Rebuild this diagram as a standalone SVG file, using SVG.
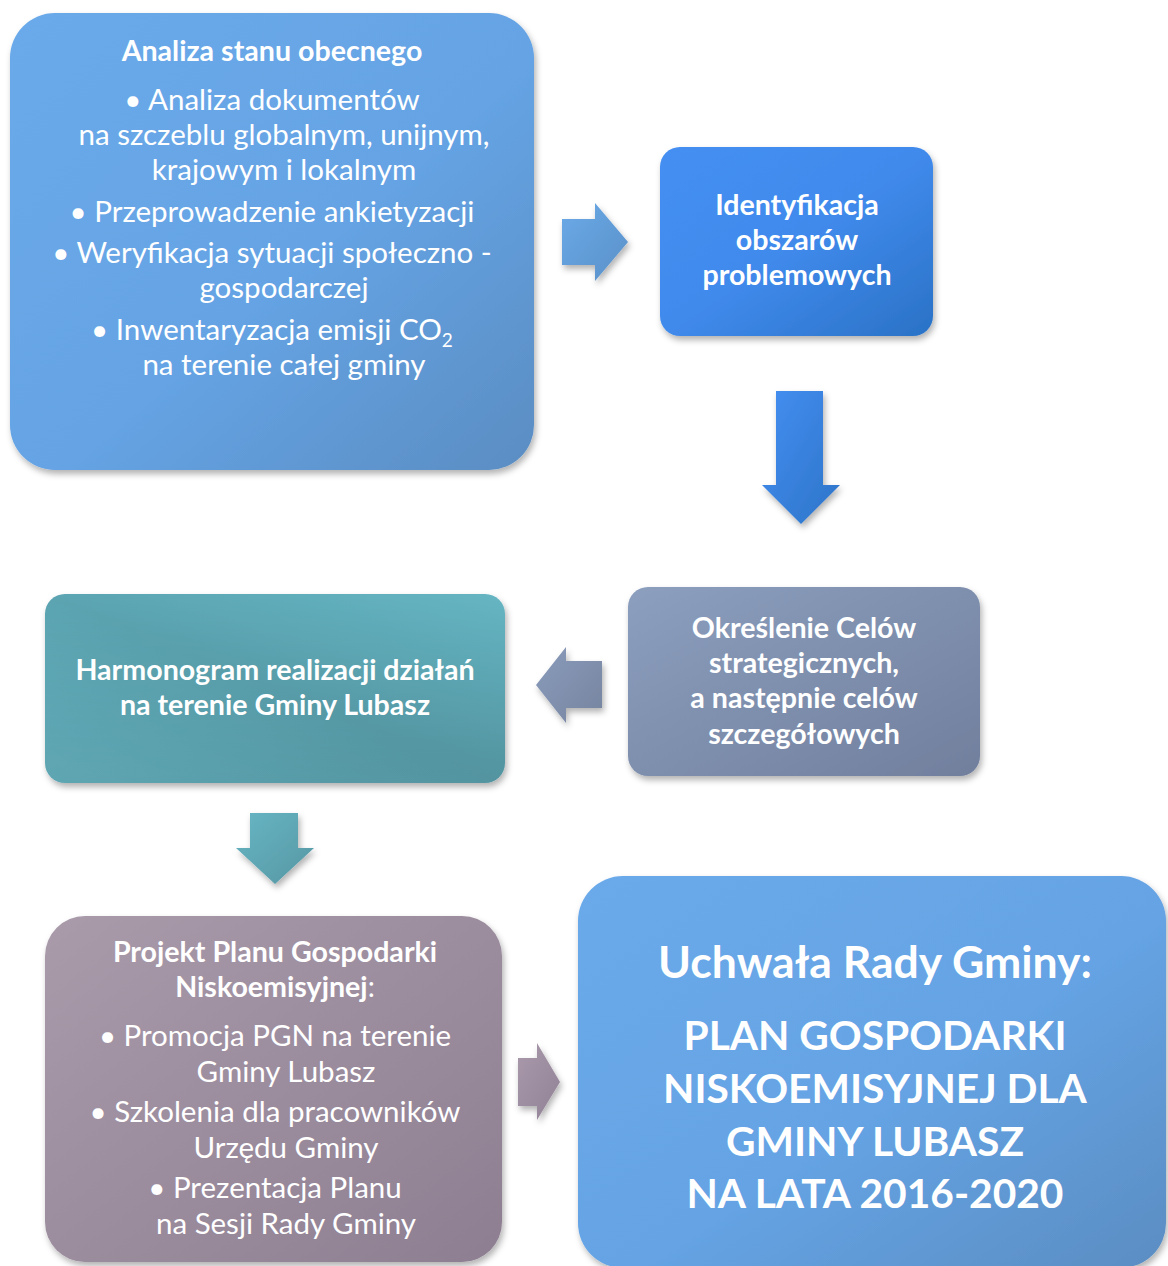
<svg xmlns="http://www.w3.org/2000/svg" width="1168" height="1266" viewBox="0 0 1168 1266">
<defs>
<linearGradient id="gBlue" x1="0" y1="0" x2="1" y2="1"><stop offset="0" stop-color="#6aaaea"/><stop offset="0.55" stop-color="#65a3e4"/><stop offset="1" stop-color="#5a8dc2"/></linearGradient>
<linearGradient id="gBlue2" x1="0" y1="0" x2="1" y2="1"><stop offset="0" stop-color="#458ff2"/><stop offset="0.5" stop-color="#408aec"/><stop offset="1" stop-color="#2a72c6"/></linearGradient>
<linearGradient id="gGray" x1="0" y1="0" x2="1" y2="1"><stop offset="0" stop-color="#8c9fbe"/><stop offset="1" stop-color="#717f9d"/></linearGradient>
<linearGradient id="gTeal" x1="0" y1="1" x2="1" y2="0"><stop offset="0" stop-color="#69b8c6"/><stop offset="0.5" stop-color="#5ba4b1"/><stop offset="1" stop-color="#66b5c3"/></linearGradient>
<linearGradient id="gTealD" x1="0" y1="0" x2="0" y2="1"><stop offset="0" stop-color="#000" stop-opacity="0"/><stop offset="1" stop-color="#000" stop-opacity="0.1"/></linearGradient>
<linearGradient id="gMauve" x1="0" y1="0" x2="1" y2="1"><stop offset="0" stop-color="#aa9bab"/><stop offset="1" stop-color="#8d7e91"/></linearGradient>
<linearGradient id="gA1" x1="0" y1="0" x2="1" y2="1"><stop offset="0" stop-color="#6aaae8"/><stop offset="1" stop-color="#5a90c8"/></linearGradient>
<linearGradient id="gA2" x1="0" y1="0" x2="1" y2="1"><stop offset="0" stop-color="#458ff2"/><stop offset="1" stop-color="#2c74c8"/></linearGradient>
<linearGradient id="gA3" x1="0" y1="0" x2="1" y2="1"><stop offset="0" stop-color="#8a9cbc"/><stop offset="1" stop-color="#76849f"/></linearGradient>
<linearGradient id="gA4" x1="0" y1="0" x2="1" y2="1"><stop offset="0" stop-color="#68b6c4"/><stop offset="1" stop-color="#5596a3"/></linearGradient>
<linearGradient id="gA5" x1="0" y1="0" x2="1" y2="1"><stop offset="0" stop-color="#a999ab"/><stop offset="1" stop-color="#928296"/></linearGradient>
<filter id="sh" x="-10%" y="-10%" width="125%" height="125%"><feDropShadow dx="2" dy="4" stdDeviation="3" flood-color="#000" flood-opacity="0.3"/></filter>
</defs>
<style>
text{fill:#ffffff;font-family:Lato,"Open Sans","Liberation Sans",sans-serif;text-anchor:middle}
.t1{font-size:29.5px}
.t2{font-size:28.6px;font-weight:bold}
.big{font-size:44.5px;font-weight:bold}
.cap{font-size:40.7px;font-weight:bold}
</style>
<g id="connectors">
<path id="a1" d="M562,219 H595 V203 L628,242 L595,281 V265 H562 Z" fill="url(#gA1)" filter="url(#sh)"/>
<path id="a2" d="M776,391 H823 V485 H840 L801,524 L762,485 H776 Z" fill="url(#gA2)" filter="url(#sh)"/>
<path id="a3" d="M602,661 H566 V647 L536,685 L566,723 V708 H602 Z" fill="url(#gA3)" filter="url(#sh)"/>
<path id="a4" d="M250,813 H298 V848 H314 L275,884 L236,848 H250 Z" fill="url(#gA4)" filter="url(#sh)"/>
<path id="a5" d="M518,1058 H537 V1043 L560,1082 L537,1120 V1106 H518 Z" fill="url(#gA5)" filter="url(#sh)"/>
</g>
<g id="n1">
<rect x="10" y="13" width="524" height="457" rx="45" fill="url(#gBlue)" filter="url(#sh)"/>
<text x="272" y="61" class="t2">Analiza stanu obecnego</text>
<text x="272" y="110" class="t1">• Analiza dokumentów</text>
<text x="284" y="145" class="t1">na szczeblu globalnym, unijnym,</text>
<text x="284" y="180" class="t1">krajowym i lokalnym</text>
<text x="272" y="222" class="t1">• Przeprowadzenie ankietyzacji</text>
<text x="272" y="263" class="t1">• Weryfikacja sytuacji społeczno -</text>
<text x="284" y="298" class="t1">gospodarczej</text>
<text x="272" y="340" class="t1">• Inwentaryzacja emisji CO<tspan font-size="19" dy="7">2</tspan></text>
<text x="284" y="375" class="t1">na terenie całej gminy</text>
</g>
<g id="n2">
<rect x="660" y="147" width="273" height="189" rx="20" fill="url(#gBlue2)" filter="url(#sh)"/>
<text x="797" y="215" class="t2">Identyfikacja</text>
<text x="797" y="250" class="t2">obszarów</text>
<text x="797" y="285" class="t2">problemowych</text>
</g>
<g id="n3">
<rect x="628" y="587" width="352" height="189" rx="20" fill="url(#gGray)" filter="url(#sh)"/>
<text x="804" y="638" class="t2">Określenie Celów</text>
<text x="804" y="673" class="t2">strategicznych,</text>
<text x="804" y="708" class="t2">a następnie celów</text>
<text x="804" y="744" class="t2">szczegółowych</text>
</g>
<g id="n4">
<rect x="45" y="594" width="460" height="189" rx="20" fill="url(#gTeal)" filter="url(#sh)"/>
<rect x="45" y="594" width="460" height="189" rx="20" fill="url(#gTealD)"/>
<text x="275" y="680" class="t2">Harmonogram realizacji działań</text>
<text x="275" y="715" class="t2">na terenie Gminy Lubasz</text>
</g>
<g id="n5">
<rect x="45" y="916" width="457" height="346" rx="40" fill="url(#gMauve)" filter="url(#sh)"/>
<text x="275" y="962" class="t2">Projekt Planu Gospodarki</text>
<text x="275" y="997" font-size="28.6"><tspan font-weight="bold">Niskoemisyjnej</tspan>:</text>
<text x="275" y="1046" class="t1">• Promocja PGN na terenie</text>
<text x="286" y="1082" class="t1">Gminy Lubasz</text>
<text x="275" y="1122" class="t1">• Szkolenia dla pracowników</text>
<text x="286" y="1158" class="t1">Urzędu Gminy</text>
<text x="275" y="1198" class="t1">• Prezentacja Planu</text>
<text x="286" y="1234" class="t1">na Sesji Rady Gminy</text>
</g>
<g id="n6">
<rect x="578" y="876" width="588" height="392" rx="45" fill="url(#gBlue)" filter="url(#sh)"/>
<text x="875" y="978" class="big">Uchwała Rady Gminy:</text>
<text x="875" y="1050" class="cap">PLAN GOSPODARKI</text>
<text x="875" y="1103" class="cap">NISKOEMISYJNEJ DLA</text>
<text x="875" y="1156" class="cap">GMINY LUBASZ</text>
<text x="875" y="1208" class="cap">NA LATA 2016-2020</text>
</g>
</svg>
